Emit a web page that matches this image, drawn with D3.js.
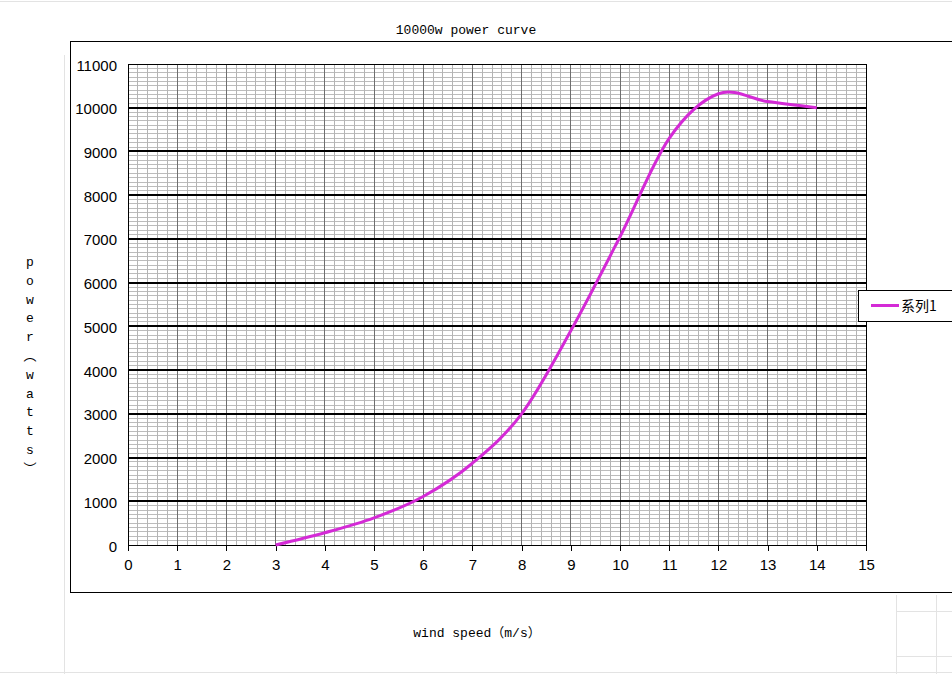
<!DOCTYPE html>
<html><head><meta charset="utf-8">
<script src="https://cdn.jsdelivr.net/npm/d3@7"></script>
<style>
html,body{margin:0;padding:0;background:#fff;}
svg{display:block;}
</style></head>
<body>
<svg id="c" width="952" height="674"></svg>
<script>
const windSpeed = [3, 4, 5, 6, 7, 8, 9, 10, 11, 12, 13, 14];
const power = [0, 280, 620, 1110, 1870, 3000, 4900, 7050, 9300, 10320, 10140, 10000];
const xTicks = d3.range(0, 16, 1);
const yTicks = d3.range(0, 12000, 1000);
const seriesName = "系列1";
const title = "10000w power curve";
const xLabel = "wind speed（m/s）";
const yLabelChars = ["p","o","w","e","r","︵","w","a","t","t","s","︶"];

const svg = d3.select("#c");
const mono = "'Liberation Mono','DejaVu Sans Mono','Noto Sans CJK SC',monospace";
const sans = "'Liberation Sans',Arial,sans-serif";
const lineColor = "#d42ad6";

// faint spreadsheet cell lines
const faint = svg.append("g").attr("stroke", "#e3e3e3").attr("stroke-width", 1).attr("shape-rendering", "crispEdges");
faint.append("line").attr("x1", 0).attr("x2", 952).attr("y1", 1.5).attr("y2", 1.5);
faint.append("line").attr("x1", 64.5).attr("x2", 64.5).attr("y1", 55).attr("y2", 674);
faint.append("line").attr("x1", 0).attr("x2", 952).attr("y1", 672.5).attr("y2", 672.5);
faint.append("line").attr("x1", 896.5).attr("x2", 896.5).attr("y1", 595).attr("y2", 674);
faint.append("line").attr("x1", 936.5).attr("x2", 936.5).attr("y1", 595).attr("y2", 674);
faint.append("line").attr("x1", 896).attr("x2", 952).attr("y1", 611.5).attr("y2", 611.5);
faint.append("line").attr("x1", 896).attr("x2", 952).attr("y1", 656.5).attr("y2", 656.5);

// chart frame
svg.append("rect").attr("x", 70.5).attr("y", 41.5).attr("width", 900).attr("height", 551)
  .attr("fill", "#fff").attr("stroke", "#000").attr("stroke-width", 1);

const x = d3.scaleLinear().domain([0, 15]).range([128, 866]);
const y = d3.scaleLinear().domain([0, 11000]).range([545, 64]);

const grid = svg.append("g").attr("shape-rendering", "crispEdges");
// minor horizontal every 100
const minorY = d3.range(100, 11000, 100).filter(v => v % 1000 !== 0);
grid.selectAll(".mh").data(minorY).join("line")
  .attr("x1", x(0)).attr("x2", x(15)).attr("y1", d => y(d)).attr("y2", d => y(d))
  .attr("stroke", "#bcbcbc").attr("stroke-width", 1);
// minor vertical every 0.2
const minorX = d3.range(1, 75).map(i => i / 5).filter(v => Math.abs(v - Math.round(v)) > 1e-6);
grid.selectAll(".mv").data(minorX).join("line")
  .attr("x1", d => x(d)).attr("x2", d => x(d)).attr("y1", y(0)).attr("y2", y(11000))
  .attr("stroke", "#b4b4b4").attr("stroke-width", 1);
// major vertical
grid.selectAll(".Mv").data(xTicks.slice(1, -1)).join("line")
  .attr("x1", d => x(d)).attr("x2", d => x(d)).attr("y1", y(0)).attr("y2", y(11000))
  .attr("stroke", "#6e6e6e").attr("stroke-width", 1);
// major horizontal
grid.selectAll(".Mh").data(yTicks.slice(1, -1)).join("line")
  .attr("x1", x(0)).attr("x2", x(15)).attr("y1", d => y(d)).attr("y2", d => y(d))
  .attr("stroke", "#000").attr("stroke-width", 2);

// plot border (top, right)
svg.append("rect").attr("x", x(0)).attr("y", y(11000)).attr("width", x(15) - x(0)).attr("height", y(0) - y(11000))
  .attr("fill", "none").attr("stroke", "#000").attr("stroke-width", 1).attr("shape-rendering", "crispEdges");

// axes
const xAxis = svg.append("g").attr("transform", `translate(0,${y(0)})`)
  .call(d3.axisBottom(x).tickValues(xTicks).tickFormat(d3.format("d")).tickSize(6).tickPadding(8));
xAxis.selectAll("text").attr("font-family", sans).attr("font-size", 15).attr("fill", "#000");
xAxis.selectAll("line,path").attr("stroke", "#000").attr("shape-rendering", "crispEdges");
xAxis.select(".domain").attr("stroke-width", 1.5);

const yAxis = svg.append("g").attr("transform", `translate(${x(0)},0)`)
  .call(d3.axisLeft(y).tickValues(yTicks).tickFormat(d3.format("d")).tickSize(0).tickPadding(11));
yAxis.selectAll("text").attr("font-family", sans).attr("font-size", 15).attr("fill", "#000").attr("dy", "0.4em");
yAxis.selectAll("line,path").attr("stroke", "#000").attr("shape-rendering", "crispEdges");
yAxis.select(".domain").attr("stroke-width", 1.5);

// curve
const line = d3.line().x((d, i) => x(windSpeed[i])).y(d => y(d)).curve(d3.curveCatmullRom.alpha(0));
svg.append("path").datum(power).attr("d", line)
  .attr("fill", "none").attr("stroke", lineColor).attr("stroke-width", 3).attr("stroke-linejoin", "round");

// title
svg.append("text").attr("x", 466).attr("y", 34).attr("text-anchor", "middle")
  .attr("font-family", mono).attr("font-size", 13).attr("fill", "#000").text(title);

// x label
svg.append("text").attr("x", 477).attr("y", 637).attr("text-anchor", "middle")
  .attr("font-family", mono).attr("font-size", 13).attr("fill", "#000").text(xLabel);

// y label (stacked vertical)
const yl = svg.append("text").attr("font-family", mono).attr("font-size", 13).attr("fill", "#000")
  .attr("text-anchor", "middle");
yl.selectAll("tspan").data(yLabelChars).join("tspan")
  .attr("x", 30).attr("y", (d, i) => 266 + i * 18.8).text(d => d);

// legend
const lg = svg.append("g");
lg.append("rect").attr("x", 858.5).attr("y", 290.5).attr("width", 110).attr("height", 31)
  .attr("fill", "#fff").attr("stroke", "#000").attr("stroke-width", 1);
lg.append("line").attr("x1", 871).attr("x2", 899).attr("y1", 305.5).attr("y2", 305.5)
  .attr("stroke", lineColor).attr("stroke-width", 3);
lg.append("text").attr("x", 901).attr("y", 311).attr("font-family", "'Noto Sans CJK SC','Noto Sans',sans-serif")
  .attr("font-size", 14).attr("fill", "#000").text(seriesName);
</script>
</body></html>
